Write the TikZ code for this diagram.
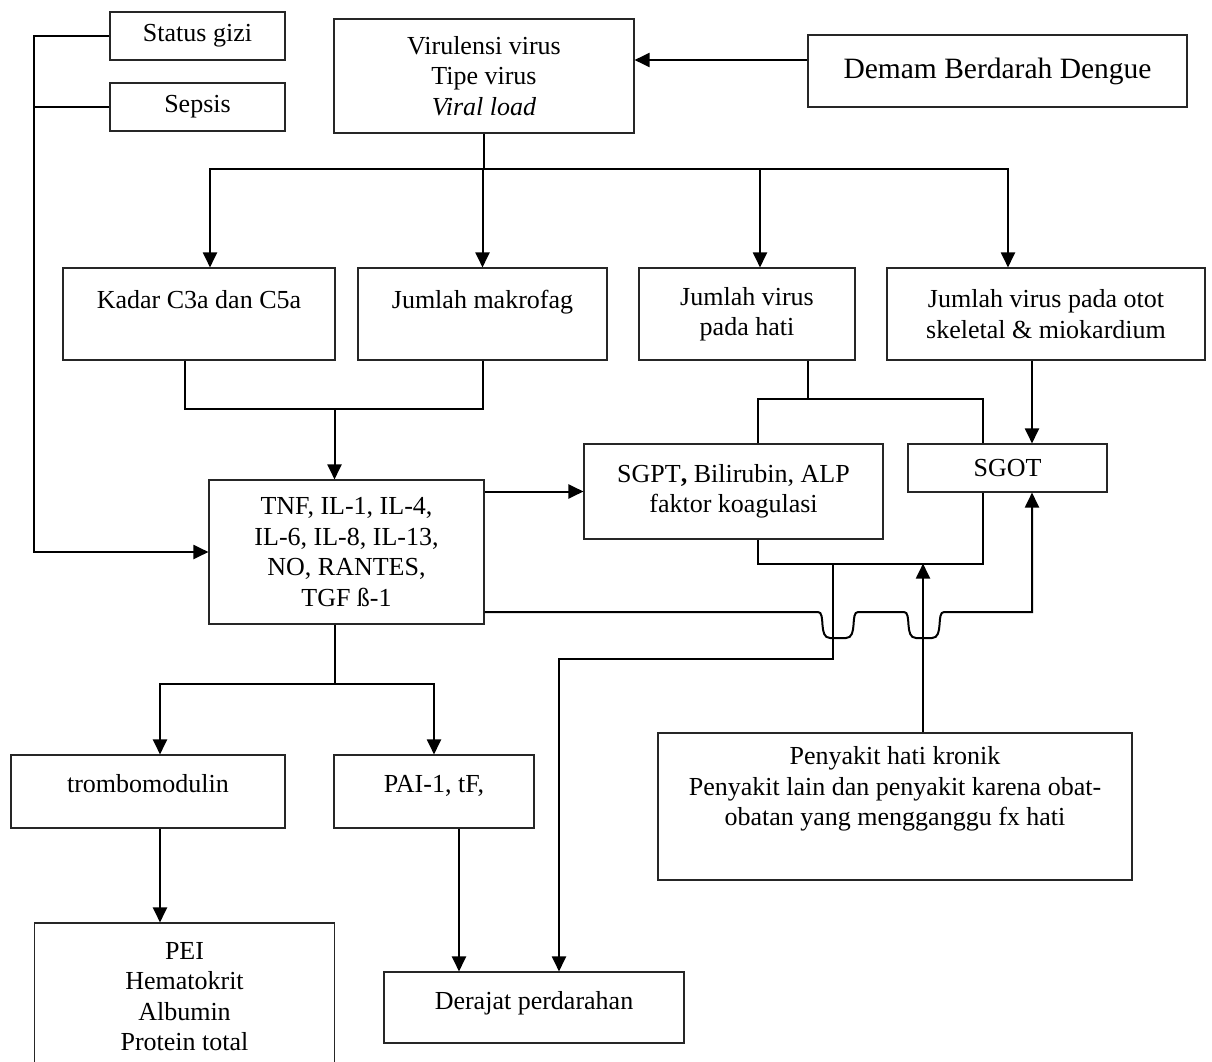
\documentclass[tikz,border=0pt]{standalone}
\usepackage{fontspec}
\setmainfont{Liberation Serif}
\usepackage{tikz}
\usetikzlibrary{arrows.meta,calc}

\tikzset{
  box/.style={draw=black!85, line width=1.1pt, inner sep=0pt, align=center},
  ln/.style={line width=2pt},
  arr/.style={line width=2pt, -{Triangle[length=15pt,width=14pt]}}
}

\begin{document}
\begin{tikzpicture}[x=1pt,y=-1pt,font=\fontsize{26}{30.5}\selectfont]
\useasboundingbox (0,0) rectangle (1212,1062);

% Top row: outside factors and the virus
\node[box, minimum width=175pt, minimum height=48pt] (gizi) at (197.5,36) {Status gizi};
\node[box, minimum width=175pt, minimum height=48pt] (sepsis) at (197.5,107) {Sepsis};
\node[box, minimum width=300pt, minimum height=114pt] (viru) at (484,76) {Virulensi virus\\Tipe virus\\\textit{Viral load}};
\node[box, minimum width=379pt, minimum height=72pt, font=\fontsize{29.5}{34}\selectfont] (dbd) at (997.5,71) {Demam Berdarah Dengue};

% Second row
\node[box, minimum width=272pt, text height=40pt, text depth=52pt] (kadar) at (199,314) {Kadar C3a dan C5a};
\node[box, minimum width=249pt, text height=40pt, text depth=52pt] (makro) at (482.5,314) {Jumlah makrofag};
\node[box, minimum width=216pt, minimum height=92pt] (hati) at (747,314) {Jumlah virus\\pada hati};
\node[box, minimum width=318pt, minimum height=92pt] (otot) at (1046,314) {Jumlah virus pada otot\\skeletal \& miokardium};

% Middle: cytokines and liver enzymes
\node[box, minimum width=275pt, minimum height=144pt] (tnf) at (346.5,552) {TNF, IL-1, IL-4,\\IL-6, IL-8, IL-13,\\NO, RANTES,\\TGF ß-1};
\node[box, minimum width=299pt, minimum height=95pt] (sgpt) at (733.5,491.5) {SGPT\textbf{,} Bilirubin, ALP\\faktor koagulasi};
\node[box, minimum width=199pt, minimum height=48pt] (sgot) at (1007.5,468) {SGOT};
\node[box, minimum width=474pt, minimum height=147pt] (peny) at (895,806.5) {};
\node[align=center, inner sep=0pt, anchor=north] (penytext) at ([yshift=-14pt]peny.north) {Penyakit hati kronik\\Penyakit lain dan penyakit karena obat-\\obatan yang mengganggu fx hati};

% Bottom rows
\node[box, minimum width=274pt, text height=37pt, text depth=36pt] (trombo) at (148,791.5) {trombomodulin};
\node[box, minimum width=200pt, text height=37pt, text depth=36pt] (pai) at (434,791.5) {PAI-1, tF,};
\node[box, minimum width=300pt, minimum height=147pt] (pei) at (184.5,996.5) {PEI\\Hematokrit\\Albumin\\Protein total};
\node[box, minimum width=300pt, text height=37pt, text depth=34pt] (derajat) at (534,1007.5) {Derajat perdarahan};

% Connectors
\draw[arr] (gizi.west) -- ++(-75,0) |- (tnf.west);
\draw[ln] (sepsis.west) -- ++(-75,0);
\draw[arr] ([yshift=11pt]dbd.west) -- ([yshift=11pt]dbd.west -| viru.east);

\draw[ln] (viru.south) -- ++(0,35) coordinate (bus);
\draw[arr] (bus) -| ([xshift=11pt]kadar.north);
\draw[arr] (bus) -- (bus -| makro.north) -- (makro.north);
\draw[arr] (bus) -| ([xshift=13pt]hati.north);
\draw[arr] (bus) -| ([xshift=-38pt]otot.north);

\draw[ln] ([xshift=-14pt]kadar.south) -- ++(0,48) coordinate (kbar) -| (makro.south);
\coordinate (tnfn) at ([xshift=-12pt]tnf.north);
\draw[arr] (kbar -| tnfn) -- (tnfn);

\draw[arr] (tnf.east |- sgpt.west) -- (sgpt.west);

\draw[ln] ([xshift=61pt]hati.south) -- ++(0,38) coordinate (hb);
\draw[ln] ([xshift=24.5pt]sgpt.north) |- (hb) -| ([xshift=-24.5pt]sgot.north);
\draw[arr] ([xshift=-14pt]otot.south) -- ([xshift=-14pt]otot.south |- sgot.north);

\draw[ln] ([xshift=24.5pt]sgpt.south) -- ++(0,24) coordinate (sb) -| ([xshift=-24.5pt]sgot.south);
\draw[arr] ($(sb)+(75,0)$) -- ++(0,95) -| ([xshift=25pt]derajat.north);
\draw[arr] ([xshift=28pt]peny.north) -- ([xshift=28pt]peny.north |- sb);

% line from cytokines to SGOT, hopping over two lines
\draw[arr] ([yshift=-60pt]tnf.east) -- (818,612)
  .. controls (826,612) and (818,638) .. (830,638) -- (846,638)
  .. controls (858,638) and (850,612) .. (858,612) -- (904,612)
  .. controls (912,612) and (904,638) .. (916,638) -- (932,638)
  .. controls (944,638) and (936,612) .. (944,612) -- (1032,612)
  -- ([xshift=24.5pt]sgot.south);

\coordinate (tnfs) at ([xshift=-12pt]tnf.south);
\draw[ln] (tnfs) -- ++(0,59) coordinate (tb);
\draw[arr] (tb) -| ([xshift=12pt]trombo.north);
\draw[arr] (tb) -| (pai.north);
\draw[arr] ([xshift=12pt]trombo.south) -- ([xshift=12pt]trombo.south |- pei.north);
\draw[arr] ([xshift=25pt]pai.south) -- ([xshift=25pt]pai.south |- derajat.north);
\end{tikzpicture}
\end{document}
